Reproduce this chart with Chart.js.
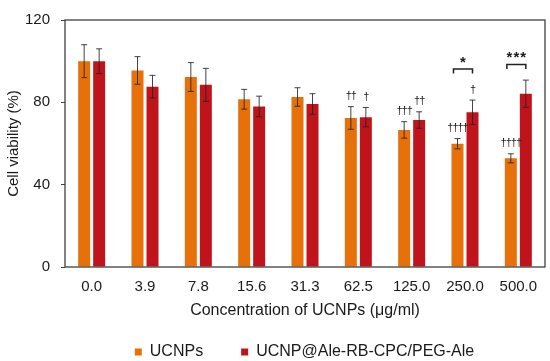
<!DOCTYPE html>
<html><head><meta charset="utf-8">
<script src="https://cdn.jsdelivr.net/npm/chart.js@4"></script>
<style>html,body{margin:0;padding:0;background:#fff;}</style>
</head><body>
<canvas id="c" width="550" height="361"></canvas>
<script>
const categories = ['0.0','3.9','7.8','15.6','31.3','62.5','125.0','250.0','500.0'];
const ucnpMean = [100, 95.5, 92.3, 81.5, 82.6, 72.4, 66.6, 59.9, 52.8];
const ucnpSD   = [8, 6.7, 7, 4.8, 4.5, 5.5, 4, 2.5, 2.2];
const conjMean = [100, 87.6, 88.5, 78, 79.2, 72.8, 71.4, 75.2, 84.2];
const conjSD   = [6, 5.5, 8, 5, 5, 4.7, 4, 5.9, 6.6];
const ucnpDaggers = ['','','','','','††','†††','††††','††††'];
const conjDaggers = ['','','','','','†','††','†',''];
const significance = ['','','','','','','','*','***'];
const yTicks = [0, 40, 80, 120];

const FONT = '"Liberation Sans", Arial, Helvetica, sans-serif';
const TXT = '#1a1a1a';
Chart.defaults.font.family = FONT;
Chart.defaults.color = TXT;

const frame = {
  id: 'frame',
  afterLayout(chart) {
    const lg = chart.legend;
    if (lg) { lg.left = 59; lg.right = 550; lg.width = 491; }
  },
  afterDatasetsDraw(chart) {
    const a = chart.chartArea, ctx = chart.ctx;
    ctx.save();
    ctx.strokeStyle = '#404040';
    ctx.lineWidth = 1.3;
    ctx.strokeRect(a.left, a.top, a.right - a.left, a.bottom - a.top);
    ctx.restore();
  }
};

const annot = {
  id: 'annot',
  afterDatasetsDraw(chart) {
    const ctx = chart.ctx, ys = chart.scales.y;
    const tops = [];
    chart.data.datasets.forEach((ds, di) => {
      const meta = chart.getDatasetMeta(di);
      meta.data.forEach((bar, i) => {
        const v = ds.data[i], sd = ds.sd[i];
        const yt = ys.getPixelForValue(v + sd), yb = ys.getPixelForValue(v - sd);
        ctx.save();
        ctx.strokeStyle = 'rgba(35,35,35,0.85)';
        ctx.lineWidth = 1;
        ctx.beginPath();
        ctx.moveTo(bar.x, yt); ctx.lineTo(bar.x, yb);
        ctx.moveTo(bar.x - 3, yt); ctx.lineTo(bar.x + 3, yt);
        ctx.moveTo(bar.x - 3, yb); ctx.lineTo(bar.x + 3, yb);
        ctx.stroke();
        let top = yt;
        if (ds.marks[i]) {
          ctx.font = '11px ' + FONT;
          ctx.letterSpacing = '-1px';
          ctx.textAlign = 'center';
          ctx.textBaseline = 'alphabetic';
          ctx.fillStyle = TXT;
          ctx.fillText(ds.marks[i], bar.x, yt - 7.5);
          top = yt - 7.5 - 8;
        }
        ctx.restore();
        tops[i] = tops[i] === undefined ? {top, x: [bar.x]} : {top: Math.min(tops[i].top, top), x: tops[i].x.concat([bar.x])};
      });
    });
    significance.forEach((s, i) => {
      if (!s) return;
      const t = tops[i];
      const left = t.x[0] - 4, right = t.x[1];
      const legBottom = t.top - 11, brTop = legBottom - 4.5;
      ctx.save();
      ctx.strokeStyle = '#222';
      ctx.lineWidth = 1.5;
      ctx.beginPath();
      ctx.moveTo(left, legBottom); ctx.lineTo(left, brTop); ctx.lineTo(right, brTop); ctx.lineTo(right, legBottom);
      ctx.stroke();
      ctx.font = 'bold 15px ' + FONT;
      ctx.letterSpacing = '1px';
      ctx.textAlign = 'center';
      ctx.textBaseline = 'alphabetic';
      ctx.fillStyle = TXT;
      ctx.fillText(s, (left + right) / 2 + 0.5, brTop - 2.5);
      ctx.restore();
    });
  }
};

new Chart(document.getElementById('c'), {
  type: 'bar',
  data: {
    labels: categories,
    datasets: [
      {label: 'UCNPs', data: ucnpMean, sd: ucnpSD, marks: ucnpDaggers, backgroundColor: '#E6700A', categoryPercentage: 0.5625, barPercentage: 0.8},
      {label: 'UCNP@Ale-RB-CPC/PEG-Ale', data: conjMean, sd: conjSD, marks: conjDaggers, backgroundColor: '#C0141C', categoryPercentage: 0.5625, barPercentage: 0.8}
    ]
  },
  options: {
    responsive: false,
    animation: false,
    devicePixelRatio: 1,
    layout: {padding: {left: 0, right: 5, top: 10, bottom: 0}},
    plugins: {
      legend: {position: 'bottom', maxHeight: 55, labels: {boxWidth: 7, boxHeight: 7, padding: 38, font: {size: 16}, color: TXT}},
      tooltip: {enabled: false}
    },
    scales: {
      x: {
        grid: {display: false, drawTicks: false},
        border: {display: false},
        ticks: {padding: 11, font: {size: 15}, color: TXT, maxRotation: 0, autoSkip: false},
        title: {display: true, text: 'Concentration of UCNPs (μg/ml)', font: {size: 16}, color: TXT, padding: {top: 0, bottom: -14.4}},
        afterFit(s) { s.height = 39; }
      },
      y: {
        min: 0, max: 120,
        afterBuildTicks(s) { s.ticks = yTicks.map(v => ({value: v})); },
        grid: {drawOnChartArea: false, drawTicks: true, tickLength: 4, color: '#404040'},
        border: {display: false},
        ticks: {padding: 11, font: {size: 15}, color: TXT},
        title: {display: true, text: 'Cell viability (%)', font: {size: 15}, color: TXT, padding: {top: 5, bottom: 0}},
        afterFit(s) { s.width = 65; }
      }
    }
  },
  plugins: [frame, annot]
});
</script>
</body></html>
